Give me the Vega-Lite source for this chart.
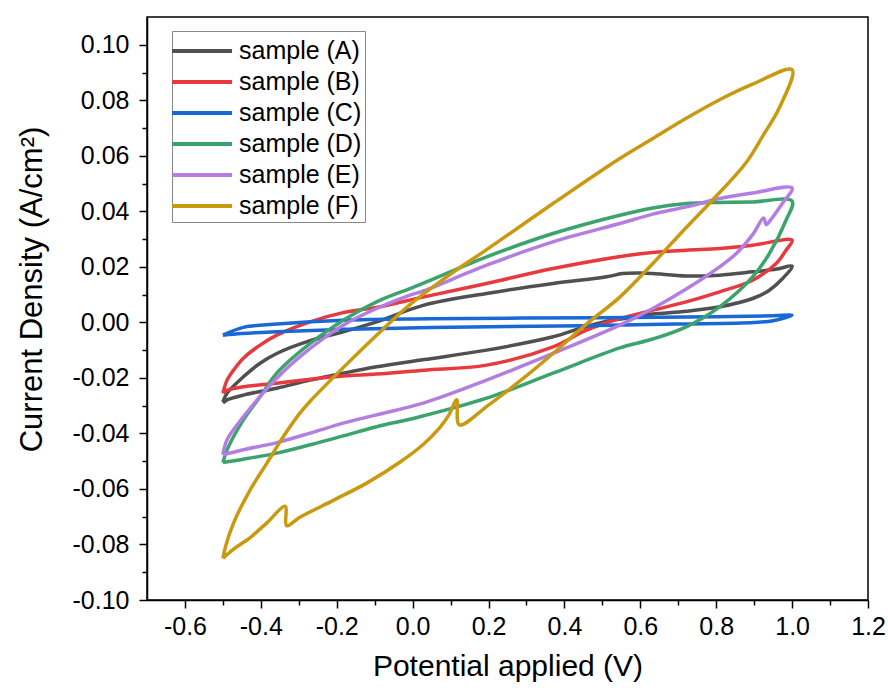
{
  "$schema": "https://vega.github.io/schema/vega-lite/v6.json",
  "width": 721,
  "height": 583,
  "autosize": "none",
  "padding": {"left": 147, "top": 17, "right": 20, "bottom": 90},
  "background": "white",
  "config": {
    "font": "Liberation Sans",
    "view": {"stroke": "black", "strokeWidth": 1.5},
    "axis": {
      "domainColor": "black", "domainWidth": 1.5, "tickColor": "black", "tickWidth": 1.5,
      "labelColor": "black", "titleColor": "black", "labelFont": "Liberation Sans", "titleFont": "Liberation Sans",
      "labelFontSize": 25, "titleFontSize": 30, "titleFontWeight": "normal", "grid": false
    },
    "legend": {
      "orient": "none", "legendX": 25, "legendY": 14, "title": null,
      "symbolType": "M-1.33,0H2.67", "symbolSize": 900, "symbolStrokeWidth": 4,
      "labelFontSize": 25, "labelFont": "Liberation Sans", "labelColor": "black",
      "strokeColor": "#888888", "fillColor": "white", "padding": 3, "rowPadding": 1, "labelOffset": 30
    }
  },
  "data": {"values": [
    {"s":"sample (A)","i":0,"x":-0.5,"y":-0.0286},
    {"s":"sample (A)","i":1,"x":-0.489,"y":-0.0255},
    {"s":"sample (A)","i":2,"x":-0.446,"y":-0.0196},
    {"s":"sample (A)","i":3,"x":-0.402,"y":-0.0147},
    {"s":"sample (A)","i":4,"x":-0.358,"y":-0.0112},
    {"s":"sample (A)","i":5,"x":-0.27,"y":-0.0066},
    {"s":"sample (A)","i":6,"x":-0.183,"y":-0.0034},
    {"s":"sample (A)","i":7,"x":-0.095,"y":0.0002},
    {"s":"sample (A)","i":8,"x":0.03,"y":0.0062},
    {"s":"sample (A)","i":9,"x":0.195,"y":0.0104},
    {"s":"sample (A)","i":10,"x":0.37,"y":0.014},
    {"s":"sample (A)","i":11,"x":0.511,"y":0.0164},
    {"s":"sample (A)","i":12,"x":0.553,"y":0.0176},
    {"s":"sample (A)","i":13,"x":0.598,"y":0.0178},
    {"s":"sample (A)","i":14,"x":0.633,"y":0.0176},
    {"s":"sample (A)","i":15,"x":0.721,"y":0.0167},
    {"s":"sample (A)","i":16,"x":0.809,"y":0.017},
    {"s":"sample (A)","i":17,"x":0.896,"y":0.0182},
    {"s":"sample (A)","i":18,"x":0.96,"y":0.0192},
    {"s":"sample (A)","i":19,"x":1.0,"y":0.0203},
    {"s":"sample (A)","i":20,"x":0.975,"y":0.0158},
    {"s":"sample (A)","i":21,"x":0.94,"y":0.0116},
    {"s":"sample (A)","i":22,"x":0.896,"y":0.0086},
    {"s":"sample (A)","i":23,"x":0.809,"y":0.0056},
    {"s":"sample (A)","i":24,"x":0.721,"y":0.004},
    {"s":"sample (A)","i":25,"x":0.633,"y":0.003},
    {"s":"sample (A)","i":26,"x":0.598,"y":0.0022},
    {"s":"sample (A)","i":27,"x":0.546,"y":0.0012},
    {"s":"sample (A)","i":28,"x":0.511,"y":0.0004},
    {"s":"sample (A)","i":29,"x":0.44,"y":-0.0022},
    {"s":"sample (A)","i":30,"x":0.37,"y":-0.0052},
    {"s":"sample (A)","i":31,"x":0.195,"y":-0.01},
    {"s":"sample (A)","i":32,"x":0.03,"y":-0.0134},
    {"s":"sample (A)","i":33,"x":-0.095,"y":-0.016},
    {"s":"sample (A)","i":34,"x":-0.183,"y":-0.0183},
    {"s":"sample (A)","i":35,"x":-0.27,"y":-0.0208},
    {"s":"sample (A)","i":36,"x":-0.358,"y":-0.0237},
    {"s":"sample (A)","i":37,"x":-0.446,"y":-0.0262},
    {"s":"sample (A)","i":38,"x":-0.49,"y":-0.028},
    {"s":"sample (A)","i":39,"x":-0.5,"y":-0.029},

    {"s":"sample (B)","i":0,"x":-0.5,"y":-0.0255},
    {"s":"sample (B)","i":1,"x":-0.489,"y":-0.0208},
    {"s":"sample (B)","i":2,"x":-0.472,"y":-0.0172},
    {"s":"sample (B)","i":3,"x":-0.446,"y":-0.0129},
    {"s":"sample (B)","i":4,"x":-0.402,"y":-0.0082},
    {"s":"sample (B)","i":5,"x":-0.358,"y":-0.0046},
    {"s":"sample (B)","i":6,"x":-0.27,"y":0.0002},
    {"s":"sample (B)","i":7,"x":-0.183,"y":0.0035},
    {"s":"sample (B)","i":8,"x":-0.095,"y":0.0054},
    {"s":"sample (B)","i":9,"x":0.03,"y":0.0092},
    {"s":"sample (B)","i":10,"x":0.195,"y":0.014},
    {"s":"sample (B)","i":11,"x":0.37,"y":0.0194},
    {"s":"sample (B)","i":12,"x":0.57,"y":0.0242},
    {"s":"sample (B)","i":13,"x":0.633,"y":0.0252},
    {"s":"sample (B)","i":14,"x":0.721,"y":0.026},
    {"s":"sample (B)","i":15,"x":0.809,"y":0.0266},
    {"s":"sample (B)","i":16,"x":0.896,"y":0.0278},
    {"s":"sample (B)","i":17,"x":1.0,"y":0.0296},
    {"s":"sample (B)","i":18,"x":0.984,"y":0.026},
    {"s":"sample (B)","i":19,"x":0.958,"y":0.0212},
    {"s":"sample (B)","i":20,"x":0.896,"y":0.0152},
    {"s":"sample (B)","i":21,"x":0.809,"y":0.011},
    {"s":"sample (B)","i":22,"x":0.721,"y":0.0074},
    {"s":"sample (B)","i":23,"x":0.633,"y":0.0044},
    {"s":"sample (B)","i":24,"x":0.57,"y":0.0022},
    {"s":"sample (B)","i":25,"x":0.546,"y":0.0014},
    {"s":"sample (B)","i":26,"x":0.458,"y":-0.0028},
    {"s":"sample (B)","i":27,"x":0.37,"y":-0.0088},
    {"s":"sample (B)","i":28,"x":0.195,"y":-0.0154},
    {"s":"sample (B)","i":29,"x":0.03,"y":-0.0172},
    {"s":"sample (B)","i":30,"x":-0.095,"y":-0.0186},
    {"s":"sample (B)","i":31,"x":-0.183,"y":-0.0193},
    {"s":"sample (B)","i":32,"x":-0.27,"y":-0.0205},
    {"s":"sample (B)","i":33,"x":-0.358,"y":-0.0219},
    {"s":"sample (B)","i":34,"x":-0.446,"y":-0.0232},
    {"s":"sample (B)","i":35,"x":-0.49,"y":-0.0245},
    {"s":"sample (B)","i":36,"x":-0.5,"y":-0.0255},

    {"s":"sample (C)","i":0,"x":-0.5,"y":-0.0046},
    {"s":"sample (C)","i":1,"x":-0.446,"y":-0.0018},
    {"s":"sample (C)","i":2,"x":-0.357,"y":-0.0006},
    {"s":"sample (C)","i":3,"x":-0.183,"y":0.0008},
    {"s":"sample (C)","i":4,"x":0.045,"y":0.0013},
    {"s":"sample (C)","i":5,"x":0.49,"y":0.0017},
    {"s":"sample (C)","i":6,"x":0.8,"y":0.002},
    {"s":"sample (C)","i":7,"x":0.95,"y":0.0024},
    {"s":"sample (C)","i":8,"x":1.0,"y":0.0026},
    {"s":"sample (C)","i":9,"x":0.95,"y":0.0006},
    {"s":"sample (C)","i":10,"x":0.9,"y":0.0},
    {"s":"sample (C)","i":11,"x":0.7,"y":-0.0006},
    {"s":"sample (C)","i":12,"x":0.45,"y":-0.0012},
    {"s":"sample (C)","i":13,"x":0.05,"y":-0.0018},
    {"s":"sample (C)","i":14,"x":-0.18,"y":-0.0025},
    {"s":"sample (C)","i":15,"x":-0.36,"y":-0.0034},
    {"s":"sample (C)","i":16,"x":-0.45,"y":-0.004},
    {"s":"sample (C)","i":17,"x":-0.5,"y":-0.0046},

    {"s":"sample (D)","i":0,"x":-0.5,"y":-0.0505},
    {"s":"sample (D)","i":1,"x":-0.489,"y":-0.0459},
    {"s":"sample (D)","i":2,"x":-0.446,"y":-0.0351},
    {"s":"sample (D)","i":3,"x":-0.402,"y":-0.0268},
    {"s":"sample (D)","i":4,"x":-0.358,"y":-0.0183},
    {"s":"sample (D)","i":5,"x":-0.27,"y":-0.0076},
    {"s":"sample (D)","i":6,"x":-0.183,"y":0.0008},
    {"s":"sample (D)","i":7,"x":-0.095,"y":0.0074},
    {"s":"sample (D)","i":8,"x":-0.007,"y":0.0122},
    {"s":"sample (D)","i":9,"x":0.03,"y":0.0142},
    {"s":"sample (D)","i":10,"x":0.195,"y":0.0236},
    {"s":"sample (D)","i":11,"x":0.37,"y":0.032},
    {"s":"sample (D)","i":12,"x":0.546,"y":0.0386},
    {"s":"sample (D)","i":13,"x":0.633,"y":0.0412},
    {"s":"sample (D)","i":14,"x":0.721,"y":0.0428},
    {"s":"sample (D)","i":15,"x":0.809,"y":0.0432},
    {"s":"sample (D)","i":16,"x":0.896,"y":0.0434},
    {"s":"sample (D)","i":17,"x":1.0,"y":0.0437},
    {"s":"sample (D)","i":18,"x":0.984,"y":0.0368},
    {"s":"sample (D)","i":19,"x":0.94,"y":0.0248},
    {"s":"sample (D)","i":20,"x":0.896,"y":0.0164},
    {"s":"sample (D)","i":21,"x":0.809,"y":0.0056},
    {"s":"sample (D)","i":22,"x":0.721,"y":-0.0016},
    {"s":"sample (D)","i":23,"x":0.633,"y":-0.006},
    {"s":"sample (D)","i":24,"x":0.546,"y":-0.0092},
    {"s":"sample (D)","i":25,"x":0.37,"y":-0.0183},
    {"s":"sample (D)","i":26,"x":0.195,"y":-0.0273},
    {"s":"sample (D)","i":27,"x":0.019,"y":-0.034},
    {"s":"sample (D)","i":28,"x":-0.095,"y":-0.0376},
    {"s":"sample (D)","i":29,"x":-0.183,"y":-0.0409},
    {"s":"sample (D)","i":30,"x":-0.27,"y":-0.0441},
    {"s":"sample (D)","i":31,"x":-0.358,"y":-0.0471},
    {"s":"sample (D)","i":32,"x":-0.446,"y":-0.0493},
    {"s":"sample (D)","i":33,"x":-0.5,"y":-0.0505},

    {"s":"sample (E)","i":0,"x":-0.5,"y":-0.0477},
    {"s":"sample (E)","i":1,"x":-0.489,"y":-0.0423},
    {"s":"sample (E)","i":2,"x":-0.446,"y":-0.034},
    {"s":"sample (E)","i":3,"x":-0.358,"y":-0.0201},
    {"s":"sample (E)","i":4,"x":-0.27,"y":-0.0094},
    {"s":"sample (E)","i":5,"x":-0.183,"y":-0.001},
    {"s":"sample (E)","i":6,"x":-0.095,"y":0.005},
    {"s":"sample (E)","i":7,"x":-0.007,"y":0.0098},
    {"s":"sample (E)","i":8,"x":0.03,"y":0.0114},
    {"s":"sample (E)","i":9,"x":0.195,"y":0.0206},
    {"s":"sample (E)","i":10,"x":0.37,"y":0.029},
    {"s":"sample (E)","i":11,"x":0.546,"y":0.0356},
    {"s":"sample (E)","i":12,"x":0.633,"y":0.039},
    {"s":"sample (E)","i":13,"x":0.721,"y":0.0416},
    {"s":"sample (E)","i":14,"x":0.809,"y":0.0446},
    {"s":"sample (E)","i":15,"x":0.896,"y":0.0466},
    {"s":"sample (E)","i":16,"x":1.0,"y":0.0484},
    {"s":"sample (E)","i":17,"x":0.975,"y":0.043},
    {"s":"sample (E)","i":18,"x":0.945,"y":0.0372},
    {"s":"sample (E)","i":19,"x":0.932,"y":0.0352},
    {"s":"sample (E)","i":20,"x":0.925,"y":0.0376},
    {"s":"sample (E)","i":21,"x":0.896,"y":0.0316},
    {"s":"sample (E)","i":22,"x":0.853,"y":0.0248},
    {"s":"sample (E)","i":23,"x":0.809,"y":0.02},
    {"s":"sample (E)","i":24,"x":0.721,"y":0.012},
    {"s":"sample (E)","i":25,"x":0.633,"y":0.005},
    {"s":"sample (E)","i":26,"x":0.546,"y":-0.001},
    {"s":"sample (E)","i":27,"x":0.37,"y":-0.0112},
    {"s":"sample (E)","i":28,"x":0.195,"y":-0.0208},
    {"s":"sample (E)","i":29,"x":0.03,"y":-0.029},
    {"s":"sample (E)","i":30,"x":-0.095,"y":-0.0333},
    {"s":"sample (E)","i":31,"x":-0.183,"y":-0.0363},
    {"s":"sample (E)","i":32,"x":-0.27,"y":-0.0399},
    {"s":"sample (E)","i":33,"x":-0.358,"y":-0.0433},
    {"s":"sample (E)","i":34,"x":-0.446,"y":-0.0459},
    {"s":"sample (E)","i":35,"x":-0.5,"y":-0.0477},

    {"s":"sample (F)","i":0,"x":-0.5,"y":-0.085},
    {"s":"sample (F)","i":1,"x":-0.493,"y":-0.0807},
    {"s":"sample (F)","i":2,"x":-0.472,"y":-0.0723},
    {"s":"sample (F)","i":3,"x":-0.428,"y":-0.0603},
    {"s":"sample (F)","i":4,"x":-0.384,"y":-0.0507},
    {"s":"sample (F)","i":5,"x":-0.341,"y":-0.0412},
    {"s":"sample (F)","i":6,"x":-0.297,"y":-0.0327},
    {"s":"sample (F)","i":7,"x":-0.27,"y":-0.0284},
    {"s":"sample (F)","i":8,"x":-0.183,"y":-0.0163},
    {"s":"sample (F)","i":9,"x":-0.095,"y":-0.0046},
    {"s":"sample (F)","i":10,"x":-0.007,"y":0.0064},
    {"s":"sample (F)","i":11,"x":0.1,"y":0.0174},
    {"s":"sample (F)","i":12,"x":0.195,"y":0.0262},
    {"s":"sample (F)","i":13,"x":0.37,"y":0.0428},
    {"s":"sample (F)","i":14,"x":0.546,"y":0.059},
    {"s":"sample (F)","i":15,"x":0.633,"y":0.0662},
    {"s":"sample (F)","i":16,"x":0.721,"y":0.0735},
    {"s":"sample (F)","i":17,"x":0.809,"y":0.0802},
    {"s":"sample (F)","i":18,"x":0.896,"y":0.0858},
    {"s":"sample (F)","i":19,"x":1.0,"y":0.091},
    {"s":"sample (F)","i":20,"x":0.967,"y":0.0775},
    {"s":"sample (F)","i":21,"x":0.923,"y":0.0672},
    {"s":"sample (F)","i":22,"x":0.879,"y":0.0576},
    {"s":"sample (F)","i":23,"x":0.79,"y":0.044},
    {"s":"sample (F)","i":24,"x":0.721,"y":0.0342},
    {"s":"sample (F)","i":25,"x":0.633,"y":0.0212},
    {"s":"sample (F)","i":26,"x":0.546,"y":0.0091},
    {"s":"sample (F)","i":27,"x":0.458,"y":-0.0006},
    {"s":"sample (F)","i":28,"x":0.37,"y":-0.0112},
    {"s":"sample (F)","i":29,"x":0.282,"y":-0.0212},
    {"s":"sample (F)","i":30,"x":0.2,"y":-0.0298},
    {"s":"sample (F)","i":31,"x":0.123,"y":-0.0369},
    {"s":"sample (F)","i":32,"x":0.116,"y":-0.0279},
    {"s":"sample (F)","i":33,"x":0.095,"y":-0.0335},
    {"s":"sample (F)","i":34,"x":0.072,"y":-0.0378},
    {"s":"sample (F)","i":35,"x":0.03,"y":-0.0437},
    {"s":"sample (F)","i":36,"x":-0.033,"y":-0.0503},
    {"s":"sample (F)","i":37,"x":-0.121,"y":-0.0579},
    {"s":"sample (F)","i":38,"x":-0.209,"y":-0.0641},
    {"s":"sample (F)","i":39,"x":-0.297,"y":-0.0702},
    {"s":"sample (F)","i":40,"x":-0.332,"y":-0.0732},
    {"s":"sample (F)","i":41,"x":-0.336,"y":-0.0663},
    {"s":"sample (F)","i":42,"x":-0.384,"y":-0.0722},
    {"s":"sample (F)","i":43,"x":-0.428,"y":-0.0775},
    {"s":"sample (F)","i":44,"x":-0.47,"y":-0.0815},
    {"s":"sample (F)","i":45,"x":-0.5,"y":-0.085}
  ]},
  "layer": [
    {
      "mark": {"type": "line", "strokeWidth": 3.5, "strokeJoin": "round", "interpolate": "catmull-rom"},
      "encoding": {
        "x": {"field": "x", "type": "quantitative",
          "scale": {"domain": [-0.7, 1.2], "nice": false, "zero": false},
          "axis": {"orient": "bottom", "title": "Potential applied (V)", "values": [-0.6,-0.4,-0.2,0,0.2,0.4,0.6,0.8,1.0,1.2],
            "labelExpr": "replace(format(datum.value, '.1f'), '\u2212', '-')", "labelFontSize": 25, "titleFontSize": 30,
            "tickSize": 8, "labelPadding": 6, "titlePadding": 12, "labelFlush": false}},
        "y": {"field": "y", "type": "quantitative",
          "scale": {"domain": [-0.1, 0.11], "nice": false, "zero": false},
          "axis": {"orient": "left", "title": "Current Density (A/cm²)", "values": [-0.1,-0.08,-0.06,-0.04,-0.02,0,0.02,0.04,0.06,0.08,0.1],
            "labelExpr": "replace(format(datum.value, '.2f'), '\u2212', '-')", "labelFontSize": 25, "titleFontSize": 31,
            "tickSize": 8, "labelPadding": 10, "titleX": -99, "titleY": 272, "labelFlush": false}},
        "color": {"field": "s", "type": "nominal",
          "scale": {"domain": ["sample (A)","sample (B)","sample (C)","sample (D)","sample (E)","sample (F)"],
                    "range": ["#505050","#e8393f","#1a68d4","#3ba36c","#b27ee2","#c9990f"]}},
        "order": {"field": "i", "type": "quantitative"}
      }
    },
    {
      "mark": {"type": "line", "opacity": 0},
      "encoding": {
        "x": {"field": "x", "type": "quantitative",
          "axis": {"orient": "bottom", "title": null, "labels": false, "domain": false, "tickSize": 5,
            "values": [-0.5,-0.3,-0.1,0.1,0.3,0.5,0.7,0.9,1.1]}},
        "y": {"field": "y", "type": "quantitative",
          "axis": {"orient": "left", "title": null, "labels": false, "domain": false, "tickSize": 5,
            "values": [-0.09,-0.07,-0.05,-0.03,-0.01,0.01,0.03,0.05,0.07,0.09]}},
        "detail": {"field": "s"},
        "order": {"field": "i", "type": "quantitative"}
      }
    }
  ],
  "resolve": {"axis": {"x": "independent", "y": "independent"}}
}
